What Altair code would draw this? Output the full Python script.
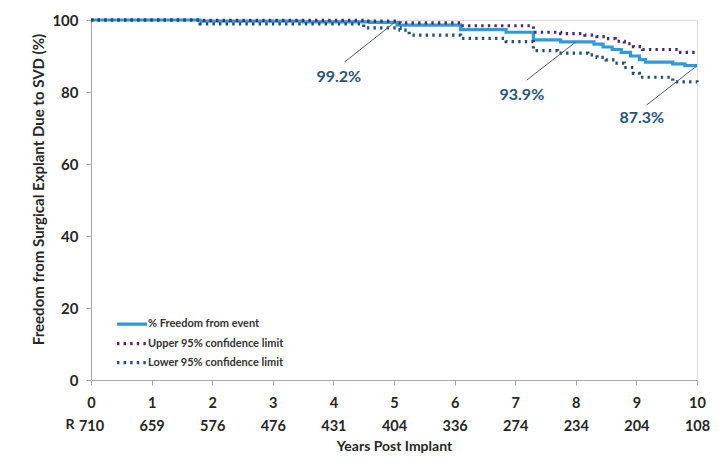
import altair as alt
import pandas as pd

# ---------------- data ----------------
years = list(range(11))
at_risk = [710, 659, 576, 476, 431, 404, 336, 274, 234, 204, 108]

series_names = ["% Freedom from event", "Upper 95% confidence limit", "Lower 95% confidence limit"]
series_colors = ["#2E9BD6", "#4B2A6B", "#22506E"]
series_dash = [[1, 0], [2.4, 4.2], [2.4, 4.2]]

main_t = [0, 1.8, 3.5, 4.6, 5.05, 6.1, 6.85, 7.3, 7.75, 8.3, 8.45, 8.6, 8.75, 8.9, 9.05, 9.15, 9.6, 9.8, 10]
main_v = [100, 99.7, 99.5, 99.3, 98.6, 97.3, 96.6, 94.5, 93.9, 93.3, 92.5, 91.8, 91.0, 90.0, 89.0, 88.3, 87.8, 87.3, 87.3]

upper_t = [0, 1.8, 4.5, 5.1, 6.1, 7.3, 7.75, 8.15, 8.35, 8.5, 8.65, 8.8, 8.95, 9.1, 9.7, 10]
upper_v = [100, 99.9, 99.7, 99.2, 98.4, 96.6, 96.2, 95.8, 95.4, 94.8, 94.1, 93.4, 92.6, 91.8, 91.0, 90.8]

lower_t = [0, 1.8, 4.5, 5.1, 5.25, 6.1, 6.85, 7.3, 7.7, 8.2, 8.35, 8.5, 8.65, 8.8, 8.95, 9.05, 9.6, 10]
lower_v = [100, 98.9, 97.8, 97.2, 95.8, 94.9, 94.0, 91.5, 90.8, 90.3, 89.6, 88.9, 88.0, 86.8, 85.2, 84.1, 82.8, 82.7]

ann_labels = ["99.2%", "93.9%", "87.3%"]
ann_tip_t = [5.0, 8.0, 10.0]
ann_tip_v = [99.2, 93.9, 87.3]
ann_tail_t = [4.19, 7.19, 9.17]
ann_tail_v = [88.4, 83.3, 76.4]
ann_text_t = [4.09, 7.11, 9.09]
ann_text_v = [84.2, 79.2, 72.8]

# legend row heights, in the chart's own y units
legend_rows_v = [15.5, 10.1, 4.8]

# ---------------- tables ----------------
rows = []
for k, (name, ts, vs) in enumerate(zip(series_names, [main_t, upper_t, lower_t], [main_v, upper_v, lower_v])):
    for t, v in zip(ts, vs):
        rows.append({"series": name, "t": t, "v": v, "k": k})
df = pd.DataFrame(rows)

ann = pd.DataFrame({
    "label": ann_labels, "tip_t": ann_tip_t, "tip_v": ann_tip_v,
    "tail_t": ann_tail_t, "tail_v": ann_tail_v,
    "text_t": ann_text_t, "text_v": ann_text_v,
})

leg = pd.DataFrame({"series": series_names, "ly": legend_rows_v})

label_expr = "[format(datum.value, 'd'), [" + ",".join("'%d'" % r for r in at_risk) + "][datum.value]]"

FONT = "Lato"
LABEL_COLOR = "#262626"
AXIS_COLOR = "#A6A6A6"
ANN_COLOR = "#2A557A"

xscale = alt.Scale(domain=[0, 10], nice=False, zero=False)
yscale = alt.Scale(domain=[0, 100], nice=False)
cscale = alt.Scale(domain=series_names, range=series_colors)
dscale = alt.Scale(domain=series_names, range=series_dash)

lines = alt.Chart(df).mark_line(interpolate="step-after", strokeWidth=3.2).encode(
    x=alt.X("t:Q", scale=xscale, axis=alt.Axis(
        values=years, title="Years Post Implant", labelExpr=label_expr,
        labelFont=FONT, labelFontSize=14.5, labelFontWeight="bold", labelColor=LABEL_COLOR,
        labelLineHeight=23, labelPadding=11, labelBaseline="top",
        tickSize=5, tickColor=AXIS_COLOR, domainColor=AXIS_COLOR, grid=False,
        titleFont=FONT, titleFontSize=14, titleFontWeight="bold", titleColor=LABEL_COLOR,
        titleBaseline="middle", titleY=66, labelFlush=False,
    )),
    y=alt.Y("v:Q", scale=yscale, axis=alt.Axis(
        values=[0, 20, 40, 60, 80, 100], title="Freedom from Surgical Explant Due to SVD (%)",
        labelFont=FONT, labelFontSize=15, labelFontWeight="bold", labelColor=LABEL_COLOR,
        labelPadding=8, tickSize=5, tickColor=AXIS_COLOR, domainColor=AXIS_COLOR, grid=False,
        titleFont=FONT, titleFontSize=15, titleFontWeight="bold", titleColor=LABEL_COLOR,
        titleAngle=270, titleAlign="center", titleBaseline="middle", titleX=-53, titleY=169,
        labelFlush=False,
    )),
    color=alt.Color("series:N", scale=cscale, legend=None),
    strokeDash=alt.StrokeDash("series:N", scale=dscale, legend=None),
    order=alt.Order("k:Q"),
)

rules = alt.Chart(ann).mark_rule(color="#4A5C6E", strokeWidth=1).encode(
    x=alt.X("tail_t:Q", scale=xscale), y=alt.Y("tail_v:Q", scale=yscale),
    x2="tip_t:Q", y2="tip_v:Q",
)

texts = alt.Chart(ann).mark_text(font=FONT, fontSize=16, fontWeight="bold", color=ANN_COLOR).encode(
    x=alt.X("text_t:Q", scale=xscale), y=alt.Y("text_v:Q", scale=yscale), text="label:N",
)

rlabel = alt.Chart(pd.DataFrame({"r": ["R"]})).mark_text(
    font=FONT, fontSize=14, fontWeight="bold", color=LABEL_COLOR
).encode(x=alt.value(-21), y=alt.value(405), text="r:N")

# legend drawn as its own small layer
leg_sym = alt.Chart(leg).mark_rule(strokeWidth=3.2).encode(
    x=alt.value(26), x2=alt.value(56), y=alt.Y("ly:Q", scale=yscale),
    color=alt.Color("series:N", scale=cscale, legend=None),
    strokeDash=alt.StrokeDash("series:N", scale=dscale, legend=None),
)
leg_txt = alt.Chart(leg).mark_text(
    font=FONT, fontSize=11, fontWeight="bold", color="#333333", align="left", baseline="middle"
).encode(x=alt.value(57), y=alt.Y("ly:Q", scale=yscale), text="series:N")

chart = alt.layer(lines, rules, texts, rlabel, leg_sym, leg_txt).properties(
    width=606, height=360,
    autosize=alt.AutoSizeParams(type="none"),
    padding={"left": 83, "top": 12, "right": 21, "bottom": 74},
).configure_view(stroke=None).configure(background="white")

chart.save("out.html", embed_options={"renderer": "svg", "actions": False})
